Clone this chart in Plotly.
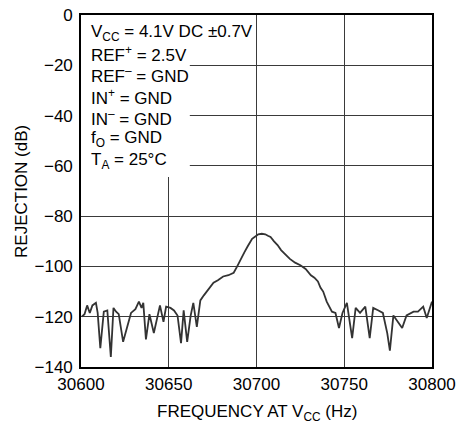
import plotly.graph_objects as go

FONT = "Liberation Sans, Arial, sans-serif"

# frequency at VCC (Hz) and rejection (dB)
freq_hz = [
    30600.5, 30602, 30603.5, 30605, 30606.5, 30608.5, 30609.5, 30611, 30613, 30615,
    30617, 30618.5, 30620, 30621.5, 30624, 30626, 30628.5, 30631, 30633, 30634.5,
    30635.5, 30637, 30639, 30641.5, 30643.5, 30645, 30647, 30648.5, 30651, 30653,
    30655, 30657, 30658.5, 30660.5, 30662.5, 30664, 30666, 30668, 30670, 30672,
    30675.5, 30678, 30681, 30684, 30687, 30689, 30691, 30693, 30695, 30697.5,
    30699.5, 30701, 30703, 30705, 30706.5, 30708, 30710, 30712, 30714, 30716,
    30719, 30722, 30725, 30728, 30731, 30733, 30735, 30736.5, 30738, 30740,
    30741.5, 30743, 30745, 30747, 30749, 30751.5, 30754.5, 30756.5, 30759, 30762,
    30764.5, 30766.5, 30769.5, 30772, 30774.5, 30776, 30778, 30780, 30783, 30785.5,
    30789.5, 30792, 30795, 30797, 30799, 30800,
]
rejection_db = [
    -120, -119, -115.5, -118.5, -115.5, -114.5, -118.5, -132.5, -118, -117.5,
    -136, -116.5, -118, -119, -130, -124.5, -118.5, -117, -114, -116.5,
    -114.5, -129, -119, -126.5, -120.5, -115.5, -122, -116, -116.5, -117.5,
    -119.5, -130.5, -117.5, -130, -119.5, -114.5, -124, -113.5, -111.5, -109.5,
    -106.5, -105.5, -104, -103.5, -102.5, -100, -97, -94.5, -92, -89,
    -88, -87.2, -87, -87.2, -87.8, -88.3, -90, -91.5, -93.5, -95,
    -97, -98.5, -99.5, -101, -103.5, -104.5, -106, -108.5, -110, -114,
    -116, -118, -118.5, -124.5, -118.5, -114.5, -128.5, -116.5, -118.5, -116,
    -128.5, -116.5, -117.5, -118.5, -126.5, -133.5, -119.5, -121.5, -124.5, -119.5,
    -118, -118, -116, -120.5, -115.5, -114,
]

x_ticks = [30600, 30650, 30700, 30750, 30800]
y_ticks = [0, -20, -40, -60, -80, -100, -120, -140]

conditions = [
    "V<sub>CC</sub> = 4.1V DC ±0.7V",
    "REF<sup>+</sup> = 2.5V",
    "REF<sup>–</sup> = GND",
    "IN<sup>+</sup> = GND",
    "IN<sup>–</sup> = GND",
    "f<sub>O</sub> = GND",
    "T<sub>A</sub> = 25°C",
]

fig = go.Figure()
fig.add_trace(go.Scatter(
    x=freq_hz,
    y=rejection_db,
    mode="lines",
    line=dict(color="#333333", width=1.8),
    showlegend=False,
))

# white box behind the conditions text hides the grid there
fig.add_shape(
    type="rect", xref="x", yref="y",
    x0=30600, x1=30662, y0=0, y1=-64.4,
    fillcolor="white", line=dict(width=0), layer="between",
)

for i, txt in enumerate(conditions):
    fig.add_annotation(
        x=30604.8, y=-7.0 - i * 8.5, xref="x", yref="y",
        text=txt, showarrow=False, xanchor="left", yanchor="middle",
        font=dict(family=FONT, size=17, color="black"),
    )

fig.add_annotation(
    x=0.5, y=-0.13, xref="paper", yref="paper",
    text="FREQUENCY AT V<sub>CC</sub> (Hz)", showarrow=False,
    xanchor="center", yanchor="middle",
    font=dict(family=FONT, size=17, color="black"),
)
fig.add_annotation(
    x=-0.171, y=0.5, xref="paper", yref="paper",
    text="REJECTION (dB)", showarrow=False, textangle=-90,
    xanchor="center", yanchor="middle",
    font=dict(family=FONT, size=17, color="black"),
)

axis_common = dict(
    showline=True, linecolor="black", linewidth=1.6, mirror=True,
    showgrid=True, gridcolor="#3a3a3a", gridwidth=1.3,
    zeroline=False, ticks="", automargin=False, ticklabeloverflow="allow",
    tickfont=dict(family=FONT, size=17, color="black"),
)

fig.update_layout(
    width=459, height=428,
    margin=dict(l=81, r=27, t=15, b=61),
    paper_bgcolor="white", plot_bgcolor="white",
    xaxis=dict(
        range=[30600, 30800], tickvals=x_ticks, tickformat="d",
        ticklabelstandoff=1, **axis_common,
    ),
    yaxis=dict(
        range=[-140, 0], tickvals=y_ticks, tickformat="d",
        ticklabelstandoff=3, **axis_common,
    ),
)

# drop the default body margin so the figure sits at the window's corner
fig.write_html(
    "out.html",
    config={"displayModeBar": False},
    post_script="document.body.style.margin='0';document.body.style.overflow='hidden';",
)
